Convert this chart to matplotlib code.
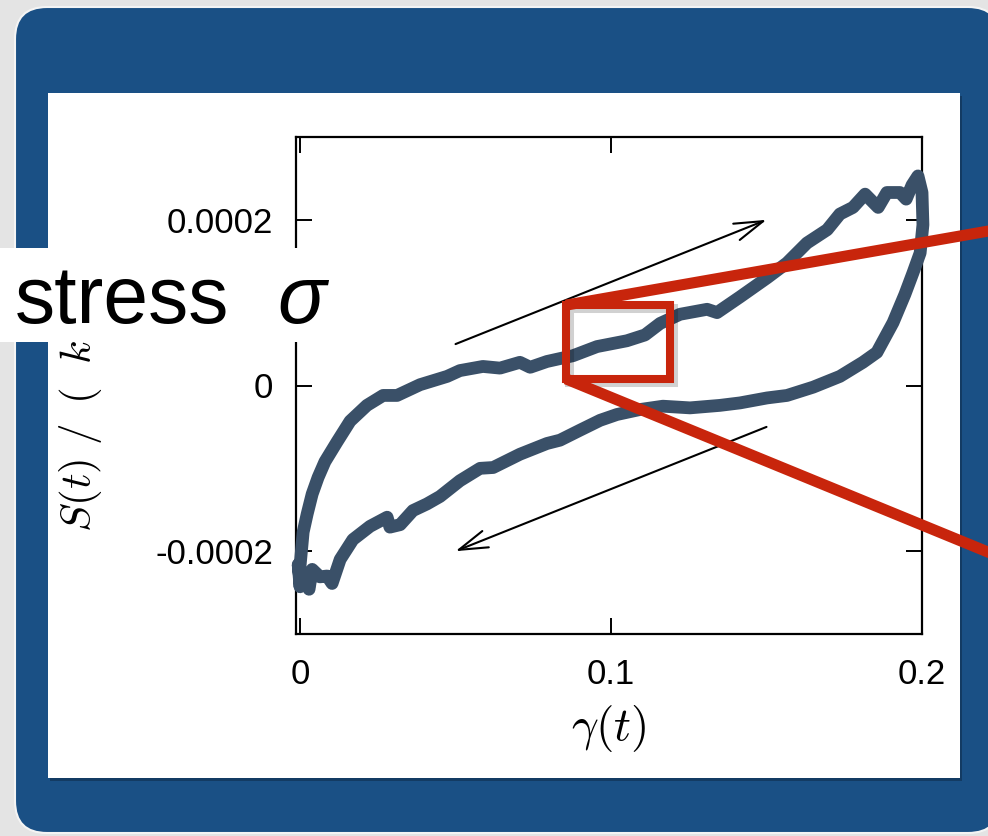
import numpy as np
import matplotlib
matplotlib.use("Agg")
import matplotlib.pyplot as plt
import matplotlib.transforms as mtransforms
from matplotlib.patches import Rectangle, FancyBboxPatch, ConnectionPatch

plt.rcParams['font.family'] = ['Liberation Sans', 'DejaVu Sans']
plt.rcParams['mathtext.fontset'] = 'cm'

# one shear cycle: strain gamma(t) and stress S(t) (in units of 1e-4)
gamma = [0.000, 0.000, 0.001, 0.0023, 0.0039, 0.0058, 0.0080, 0.0119, 0.0161, 0.0215,
         0.0267, 0.0312, 0.0386, 0.0473, 0.0514, 0.0588, 0.0643, 0.0707, 0.0740, 0.0794,
         0.0878, 0.0955, 0.1051, 0.1109, 0.1158, 0.1222, 0.1309, 0.1341, 0.1415, 0.1502,
         0.1566, 0.1630, 0.1695, 0.1736, 0.1778, 0.1817, 0.1859, 0.1887, 0.1929, 0.1949,
         0.1968, 0.1987, 0.2000, 0.2003, 0.1994, 0.1971, 0.1945, 0.1907, 0.1855, 0.1810,
         0.1736, 0.1650, 0.1566, 0.1502, 0.1415, 0.1350, 0.1254, 0.1167, 0.1093, 0.1019,
         0.0965, 0.0900, 0.0836, 0.0794, 0.0707, 0.0621, 0.0579, 0.0514, 0.0450, 0.0408,
         0.0363, 0.0322, 0.0289, 0.0280, 0.0225, 0.0170, 0.0129, 0.0103, 0.0087, 0.0064,
         0.0039, 0.0029, 0.0013, 0.000, -0.0006]
stress = [-2.36, -2.18, -1.77, -1.55, -1.31, -1.11, -0.92, -0.68, -0.43, -0.24,
          -0.12, -0.12, 0.01, 0.11, 0.18, 0.23, 0.21, 0.28, 0.22, 0.29,
          0.36, 0.47, 0.54, 0.61, 0.75, 0.86, 0.92, 0.88, 1.07, 1.30,
          1.48, 1.72, 1.88, 2.07, 2.15, 2.31, 2.15, 2.33, 2.33, 2.25,
          2.42, 2.53, 2.33, 1.94, 1.60, 1.36, 1.10, 0.76, 0.40, 0.28,
          0.11, -0.02, -0.12, -0.15, -0.21, -0.24, -0.27, -0.25, -0.29, -0.35,
          -0.42, -0.54, -0.66, -0.70, -0.83, -0.99, -1.00, -1.15, -1.34, -1.43,
          -1.51, -1.68, -1.71, -1.59, -1.70, -1.86, -2.10, -2.39, -2.30, -2.31,
          -2.22, -2.46, -2.28, -2.43, -2.16]

xticks = [0, 0.1, 0.2]
xticklabels = ['0', '0.1', '0.2']
yticks = [-2e-4, 0, 2e-4]
yticklabels = ['-0.0002', '0', '0.0002']

# loading / unloading direction arrows (tail, head)
arrow_tails = [(0.05, 0.5e-4), (0.15, -0.5e-4)]
arrow_heads = [(0.15, 2.0e-4), (0.05, -2.0e-4)]

# zoomed window (gamma0, gamma1, S0, S1)
zoom_box = (0.0855, 0.119, 0.08e-4, 0.97e-4)

BLUE = '#1a5085'
CURVE = '#3a5068'
RED = '#c8250c'

W, H = 988, 836
fig = plt.figure(figsize=(W / 100, H / 100), dpi=100, facecolor='#e4e4e4')
inch = fig.dpi_scale_trans


def px(x, y):
    # pixel position measured from the top-left corner -> inches
    return x / 100, (H - y) / 100


# slide frame and white panel
fig.add_artist(FancyBboxPatch(px(15, 833), 9.85, 8.26,
                              boxstyle='round,pad=0,rounding_size=0.32',
                              transform=inch, fc=BLUE, ec='#f4f4f4', lw=1.5, zorder=-10))
fig.add_artist(Rectangle(px(50, 781), 9.12, 6.85, transform=inch,
                         fc='black', alpha=0.25, ec='none', zorder=-9))
fig.add_artist(Rectangle(px(48, 778), 9.12, 6.85, transform=inch,
                         fc='white', ec='none', zorder=-8))

ax = fig.add_axes([296 / W, (H - 634) / H, 626 / W, 497 / H])
ax.set_facecolor('white')

g = np.array(gamma + gamma[:1])
s = np.array(stress + stress[:1]) * 1e-4
ax.plot(g, s, color=CURVE, lw=9.2, clip_on=False, zorder=3)

for tail, head in zip(arrow_tails, arrow_heads):
    ax.annotate('', xy=head, xytext=tail,
                arrowprops=dict(arrowstyle='->,head_length=1.38,head_width=0.42',
                                lw=1.5, color='black', shrinkA=0, shrinkB=0,
                                mutation_scale=15), zorder=4)

ax.set_xlim(-0.0013, 0.2)
ax.set_ylim(-3e-4, 3e-4)
ax.set_xticks(xticks, labels=xticklabels)
ax.set_yticks(yticks, labels=yticklabels)
ax.tick_params(direction='in', top=True, right=True, length=11.5, width=1.4,
               labelsize=25)
ax.tick_params(axis='x', pad=17)
ax.tick_params(axis='y', pad=16.5)
for sp in ax.spines.values():
    sp.set_linewidth(1.6)

ax.set_xlabel(r'$\gamma(t)$', fontsize=34, va='center')
ax.xaxis.set_label_coords(0.5, -0.19)
ax.set_ylabel(r'$S(t)\ /\,\ (\ \;k_B T\ )$', fontsize=31, ha='left', va='center')
ax.yaxis.set_label_coords(-0.3435, 0.205)

# zoom window with a soft drop shadow, and the lines leading out of it
g0, g1, s0, s1 = zoom_box
shadow = mtransforms.offset_copy(ax.transData, fig=fig, x=3, y=-3, units='dots')
ax.add_patch(Rectangle((g0, s0), g1 - g0, s1 - s0, fill=False, ec='black',
                       alpha=0.18, lw=6.5, joinstyle='miter', transform=shadow,
                       clip_on=False, zorder=5))
ax.add_patch(Rectangle((g0, s0), g1 - g0, s1 - s0, fill=False, ec=RED, lw=5.8,
                       joinstyle='miter', clip_on=False, zorder=6))
for corner, end in [((g0, s1), px(1000, 229)), ((g0, s0), px(1000, 557))]:
    fig.add_artist(ConnectionPatch(xyA=corner, coordsA='data', axesA=ax,
                                   xyB=end, coordsB=inch, color=RED, lw=8,
                                   capstyle='butt', zorder=8))

# "stress sigma" caption box over the axis label
fig.add_artist(Rectangle(px(0, 342), 3.35, 0.94, transform=inch,
                         fc='white', ec='none', zorder=20))
fig.text(0.15, (H - 323) / 100, 'stress', transform=inch, fontsize=58,
         va='baseline', ha='left', zorder=21)
fig.text(2.77, (H - 323) / 100, 'σ', transform=inch, fontsize=58,
         style='italic', va='baseline', ha='left', zorder=21)

fig.savefig('out.png', dpi=100, facecolor=fig.get_facecolor())
